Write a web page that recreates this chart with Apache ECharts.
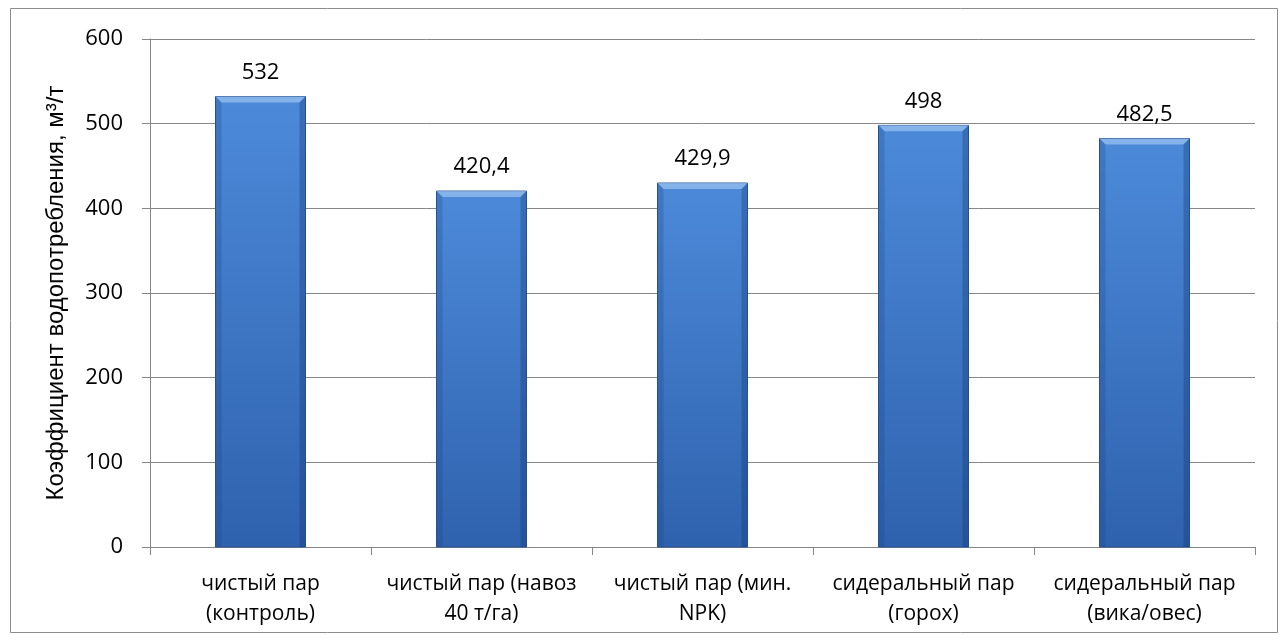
<!DOCTYPE html>
<html>
<head>
<meta charset="utf-8">
<script src="https://cdn.jsdelivr.net/npm/echarts@6/dist/echarts.min.js"></script>
<style>
  html, body { margin: 0; padding: 0; background: #fff; }
  #chart { width: 1288px; height: 640px; }
</style>
</head>
<body>
<div id="chart"></div>
<script>
// Water use coefficient by fallow type
const categories = [
  'чистый пар\n(контроль)',
  'чистый пар (навоз\n40 т/га)',
  'чистый пар (мин.\nNPK)',
  'сидеральный пар\n(горох)',
  'сидеральный пар\n(вика/овес)'
];
const values = [532, 420.4, 429.9, 498, 482.5];
const yAxisTitle = 'Коэффициент водопотребления, м³/т';

const labelFont = 'Open Sans';
const titleFont = 'Liberation Sans';
const BAR_W = 90;
const BEVEL = 6;

const fmt = v => String(v).replace('.', ',');

// Bar with bevelled edges and its value label, drawn through the axis scale
function renderBar(params, api) {
  const x = api.value(0);
  const v = api.value(1);
  const top = api.coord([x, v]);
  const base = api.coord([x, 0]);
  const l = top[0] - BAR_W / 2, r = top[0] + BAR_W / 2;
  const t = top[1], b = base[1];
  const h = b - t;
  const bv = Math.min(BEVEL, h / 2);
  return {
    type: 'group',
    children: [
      {
        type: 'rect',
        shape: { x: l, y: t, width: BAR_W, height: h },
        style: {
          fill: new echarts.graphic.LinearGradient(0, 0, 0, 1, [
            { offset: 0, color: '#4c8ad9' },
            { offset: 1, color: '#2f62ae' }
          ]),
          stroke: '#2a5597', lineWidth: 1
        }
      },
      { // top bevel (light)
        type: 'polygon',
        shape: { points: [[l, t], [r, t], [r - bv, t + bv], [l + bv, t + bv]] },
        style: { fill: 'rgba(170,205,245,0.6)' }
      },
      { // left bevel
        type: 'polygon',
        shape: { points: [[l, t], [l + bv, t + bv], [l + bv, b], [l, b]] },
        style: { fill: 'rgba(25,60,120,0.22)' }
      },
      { // right bevel
        type: 'polygon',
        shape: { points: [[r, t], [r - bv, t + bv], [r - bv, b], [r, b]] },
        style: { fill: 'rgba(20,50,110,0.32)' }
      },
      { // value label
        type: 'text',
        x: top[0], y: t - 24,
        style: {
          text: fmt(v),
          fill: '#000',
          fontFamily: labelFont,
          fontSize: 22,
          align: 'center',
          verticalAlign: 'middle'
        }
      }
    ]
  };
}

const chart = echarts.init(document.getElementById('chart'), null, { renderer: 'canvas' });
chart.setOption({
  animation: false,
  backgroundColor: '#ffffff',
  graphic: [{
    type: 'rect',
    shape: { x: 10.5, y: 8.5, width: 1267, height: 624 },
    style: { fill: 'none', stroke: '#8c8c8c', lineWidth: 1 },
    z: -1
  }],
  grid: { left: 150, right: 33, top: 39, bottom: 93 },
  xAxis: {
    type: 'category',
    data: categories,
    boundaryGap: true,
    axisLine: { lineStyle: { color: '#868686' } },
    axisTick: { show: true, length: 8, lineStyle: { color: '#868686' } },
    axisLabel: {
      interval: 0, color: '#000', fontFamily: labelFont, fontSize: 21,
      lineHeight: 30, margin: 22
    }
  },
  yAxis: {
    type: 'value',
    min: 0, max: 600, interval: 100,
    name: yAxisTitle,
    nameLocation: 'middle',
    nameGap: 82,
    nameRotate: 90,
    nameTextStyle: { color: '#000', fontFamily: titleFont, fontSize: 24 },
    axisLine: { show: true, lineStyle: { color: '#868686' } },
    axisTick: { show: true, length: 8, lineStyle: { color: '#868686' } },
    axisLabel: { color: '#000', fontFamily: labelFont, fontSize: 22, margin: 27 },
    splitLine: { lineStyle: { color: '#878787', width: 1 } }
  },
  series: [{
    type: 'custom',
    renderItem: renderBar,
    data: values.map((v, i) => [i, v]),
    encode: { x: 0, y: 1 }
  }]
});
</script>
</body>
</html>
